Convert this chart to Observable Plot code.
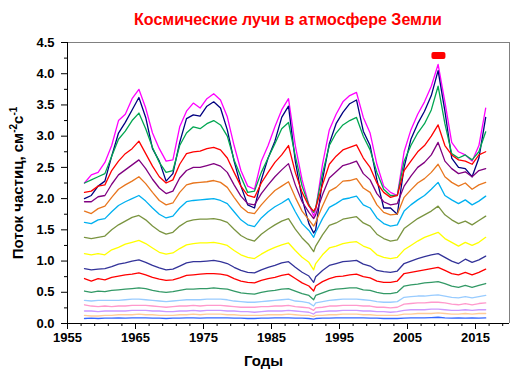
<!DOCTYPE html>
<html><head><meta charset="utf-8">
<script src="https://cdn.jsdelivr.net/npm/d3@7"></script>
<script src="https://cdn.jsdelivr.net/npm/@observablehq/plot@0.6"></script>
<style>
body{margin:0;background:#fff;width:520px;height:383px;overflow:hidden;font-family:'Liberation Sans',Arial,sans-serif;}
#title{box-sizing:border-box;height:32px;padding:10px 11px 0 67px;line-height:20px;text-align:center;color:#ff0000;font-weight:bold;font-size:16px;}
</style></head>
<body>
<div id="title">Космические лучи в атмосфере Земли</div>
<div id="chart"></div>
<script>
const years = [1957.5,1958.5,1959.5,1960.5,1961.5,1962.5,1963.5,1964.5,1965.5,1966.5,1967.5,1968.5,1969.5,1970.5,1971.5,1972.5,1973.5,1974.5,1975.5,1976.5,1977.5,1978.5,1979.5,1980.5,1981.5,1982.5,1983.5,1984.5,1985.5,1986.5,1987.5,1988.5,1989.5,1990.5,1991.2,1991.5,1992.5,1993.5,1994.5,1995.5,1996.5,1997.5,1998.5,1999.5,2000.5,2001.5,2002.5,2003.5,2004.5,2005.5,2006.5,2007.5,2008.5,2009.5,2010.5,2011.5,2012.5,2013.5,2014.5,2015.5,2016.5];

const magenta = [2.25,2.38,2.42,2.58,2.85,3.25,3.35,3.6,3.75,3.45,3.05,2.8,2.6,2.62,3.15,3.4,3.53,3.45,3.6,3.68,3.58,3.31,2.85,2.45,2.2,2.15,2.6,2.85,3.15,3.42,3.6,2.85,2.3,1.9,1.72,1.82,2.55,3.1,3.35,3.55,3.65,3.7,3.3,3.05,2.55,2.2,2.1,2.05,2.75,3.1,3.35,3.55,3.8,4.15,3.55,2.9,2.75,2.7,2.6,2.85,3.45];
const navy = [2.0,2.05,2.2,2.28,2.68,3.05,3.22,3.42,3.62,3.3,2.8,2.6,2.28,2.4,2.9,3.28,3.34,3.32,3.48,3.55,3.45,3.1,2.6,2.2,1.9,1.85,2.3,2.65,2.92,3.3,3.48,2.6,2.0,1.6,1.45,1.5,2.3,2.88,3.2,3.38,3.52,3.58,3.08,2.85,2.3,1.85,1.85,1.75,2.5,2.95,3.2,3.4,3.65,4.05,3.4,2.65,2.5,2.48,2.35,2.65,3.3];
const green = [2.25,2.3,2.35,2.4,2.68,2.95,3.08,3.25,3.37,3.12,2.82,2.58,2.42,2.45,2.85,3.05,3.15,3.12,3.2,3.25,3.18,3.0,2.62,2.35,2.1,2.12,2.42,2.65,2.88,3.12,3.22,2.68,2.2,1.9,1.78,1.85,2.4,2.85,3.05,3.18,3.25,3.3,3.0,2.78,2.42,2.15,2.05,2.05,2.6,2.85,3.05,3.2,3.42,3.8,3.2,2.72,2.65,2.7,2.62,2.75,3.07];
const red = [2.1,2.12,2.2,2.22,2.45,2.6,2.72,2.8,2.92,2.72,2.52,2.35,2.25,2.3,2.55,2.72,2.75,2.76,2.8,2.82,2.78,2.65,2.42,2.2,2.05,2.02,2.25,2.42,2.58,2.7,2.85,2.42,2.1,1.88,1.8,1.85,2.22,2.55,2.68,2.78,2.82,2.86,2.65,2.5,2.25,2.1,2.02,2.05,2.45,2.6,2.75,2.85,3.0,3.18,2.85,2.7,2.62,2.6,2.55,2.7,2.75];
const purple = [1.95,1.95,2.03,2.05,2.23,2.38,2.46,2.54,2.62,2.48,2.31,2.17,2.08,2.12,2.33,2.45,2.5,2.5,2.53,2.56,2.52,2.42,2.22,2.04,1.92,1.9,2.08,2.22,2.35,2.46,2.56,2.22,1.95,1.78,1.68,1.74,2.06,2.33,2.43,2.53,2.56,2.6,2.4,2.3,2.08,1.95,1.9,1.92,2.2,2.36,2.5,2.58,2.7,2.9,2.6,2.48,2.4,2.43,2.35,2.45,2.48];
const orange = [1.8,1.76,1.84,1.88,2.02,2.15,2.22,2.28,2.35,2.24,2.1,1.97,1.9,1.93,2.1,2.22,2.25,2.26,2.27,2.29,2.26,2.18,2.02,1.87,1.78,1.76,1.9,2.02,2.13,2.2,2.27,2.02,1.8,1.66,1.56,1.62,1.88,2.12,2.18,2.28,2.29,2.32,2.17,2.1,1.9,1.78,1.74,1.75,2.02,2.14,2.25,2.32,2.42,2.55,2.35,2.26,2.2,2.25,2.15,2.22,2.26];
const skyblue = [1.62,1.6,1.66,1.68,1.79,1.89,1.95,2.0,2.05,1.96,1.85,1.75,1.69,1.72,1.85,1.95,1.97,1.98,1.99,2.0,1.97,1.92,1.79,1.66,1.58,1.55,1.69,1.79,1.87,1.93,2.0,1.79,1.6,1.49,1.38,1.46,1.68,1.86,1.92,1.99,2.01,2.04,1.9,1.85,1.69,1.6,1.56,1.58,1.8,1.9,1.98,2.05,2.15,2.26,2.05,1.98,1.92,1.98,1.9,1.96,2.04];
const olive = [1.38,1.36,1.38,1.4,1.5,1.58,1.64,1.7,1.73,1.66,1.56,1.48,1.43,1.46,1.56,1.63,1.66,1.67,1.67,1.68,1.66,1.62,1.51,1.41,1.35,1.32,1.43,1.51,1.58,1.64,1.68,1.51,1.37,1.26,1.15,1.24,1.42,1.57,1.61,1.67,1.69,1.71,1.61,1.56,1.43,1.36,1.32,1.34,1.52,1.6,1.68,1.74,1.8,1.88,1.74,1.66,1.6,1.64,1.58,1.65,1.72];
const yellow = [1.12,1.1,1.12,1.1,1.18,1.22,1.27,1.3,1.33,1.28,1.21,1.14,1.11,1.13,1.2,1.26,1.28,1.29,1.29,1.3,1.28,1.25,1.17,1.1,1.06,1.04,1.11,1.17,1.22,1.26,1.29,1.17,1.06,0.98,0.86,0.96,1.1,1.21,1.24,1.28,1.3,1.31,1.24,1.2,1.1,1.06,1.04,1.06,1.18,1.25,1.32,1.38,1.42,1.46,1.36,1.3,1.24,1.3,1.25,1.3,1.38];
const slateblue = [0.88,0.86,0.87,0.88,0.91,0.95,0.97,1.0,1.02,0.98,0.93,0.89,0.86,0.87,0.92,0.97,0.99,0.99,1.0,1.01,0.99,0.96,0.9,0.85,0.82,0.81,0.86,0.9,0.93,0.97,0.99,0.9,0.82,0.76,0.66,0.75,0.85,0.93,0.96,0.99,1.0,1.01,0.95,0.92,0.85,0.83,0.82,0.84,0.96,1.0,1.04,1.07,1.1,1.12,1.06,1.0,0.96,1.03,0.98,1.02,1.08];
const red2 = [0.72,0.68,0.72,0.7,0.74,0.76,0.78,0.79,0.81,0.78,0.74,0.71,0.69,0.7,0.73,0.77,0.78,0.79,0.8,0.8,0.79,0.77,0.72,0.68,0.66,0.65,0.69,0.72,0.74,0.77,0.79,0.72,0.65,0.6,0.52,0.6,0.67,0.72,0.75,0.76,0.78,0.79,0.75,0.73,0.68,0.66,0.66,0.68,0.8,0.82,0.84,0.86,0.88,0.9,0.85,0.8,0.78,0.82,0.78,0.82,0.87];
const seagreen = [0.52,0.5,0.52,0.51,0.53,0.54,0.55,0.56,0.57,0.56,0.53,0.51,0.5,0.51,0.53,0.55,0.55,0.56,0.56,0.57,0.56,0.55,0.52,0.49,0.48,0.47,0.5,0.52,0.53,0.55,0.56,0.52,0.48,0.45,0.38,0.45,0.49,0.53,0.55,0.56,0.57,0.57,0.54,0.53,0.5,0.48,0.48,0.5,0.6,0.62,0.63,0.65,0.66,0.67,0.64,0.6,0.58,0.61,0.58,0.61,0.64];
const paleblue = [0.37,0.36,0.37,0.37,0.37,0.37,0.38,0.39,0.39,0.38,0.37,0.36,0.35,0.36,0.37,0.38,0.38,0.38,0.39,0.39,0.39,0.38,0.36,0.35,0.34,0.34,0.35,0.36,0.37,0.38,0.39,0.36,0.35,0.33,0.28,0.33,0.35,0.37,0.38,0.39,0.39,0.39,0.38,0.37,0.35,0.34,0.34,0.35,0.42,0.43,0.44,0.44,0.45,0.46,0.44,0.42,0.41,0.43,0.41,0.43,0.45];
const pink = [0.3,0.28,0.27,0.28,0.27,0.28,0.28,0.29,0.29,0.29,0.28,0.27,0.26,0.27,0.28,0.28,0.29,0.28,0.29,0.29,0.29,0.28,0.27,0.26,0.26,0.26,0.27,0.27,0.28,0.28,0.29,0.27,0.26,0.25,0.21,0.25,0.26,0.28,0.28,0.29,0.29,0.29,0.28,0.28,0.26,0.26,0.25,0.26,0.31,0.32,0.33,0.33,0.34,0.34,0.33,0.31,0.3,0.32,0.3,0.32,0.33];
const lavender = [0.2,0.2,0.19,0.2,0.2,0.2,0.2,0.21,0.21,0.21,0.2,0.2,0.19,0.19,0.2,0.2,0.21,0.2,0.21,0.21,0.21,0.2,0.2,0.19,0.19,0.18,0.19,0.2,0.2,0.2,0.21,0.2,0.19,0.18,0.15,0.18,0.19,0.2,0.2,0.21,0.21,0.21,0.2,0.2,0.19,0.19,0.18,0.19,0.21,0.22,0.22,0.22,0.23,0.23,0.22,0.21,0.21,0.22,0.21,0.22,0.22];
const peach = [0.13,0.12,0.12,0.13,0.13,0.14,0.14,0.14,0.15,0.14,0.14,0.13,0.13,0.13,0.14,0.14,0.15,0.14,0.15,0.15,0.15,0.14,0.14,0.13,0.13,0.13,0.13,0.14,0.14,0.14,0.15,0.14,0.13,0.13,0.11,0.13,0.13,0.14,0.14,0.15,0.15,0.15,0.14,0.14,0.13,0.13,0.13,0.13,0.15,0.15,0.16,0.16,0.16,0.17,0.16,0.15,0.15,0.16,0.15,0.16,0.16];
const blue = [0.08,0.085,0.08,0.085,0.085,0.09,0.085,0.09,0.09,0.09,0.085,0.085,0.08,0.085,0.085,0.09,0.09,0.085,0.09,0.09,0.09,0.09,0.085,0.085,0.08,0.08,0.085,0.085,0.09,0.09,0.09,0.085,0.085,0.08,0.07,0.08,0.085,0.085,0.09,0.09,0.09,0.09,0.09,0.085,0.085,0.08,0.08,0.08,0.085,0.09,0.09,0.09,0.095,0.1,0.09,0.085,0.09,0.085,0.09,0.085,0.09];

const series = [
  {values: magenta, color: "#ff00ff"},
  {values: navy, color: "#000080"},
  {values: green, color: "#00a651"},
  {values: red, color: "#ff0000"},
  {values: purple, color: "#800080"},
  {values: orange, color: "#e8761e"},
  {values: skyblue, color: "#00b0f0"},
  {values: olive, color: "#7a9440"},
  {values: yellow, color: "#ffff00"},
  {values: slateblue, color: "#333399"},
  {values: red2, color: "#ff0000"},
  {values: seagreen, color: "#339966"},
  {values: paleblue, color: "#99ccff"},
  {values: pink, color: "#ff99cc"},
  {values: lavender, color: "#cc99ff"},
  {values: peach, color: "#ffcc99"},
  {values: blue, color: "#3366ff"}
];

const marker = [{year: 2009.55, value: 4.29}];
const xDomain = [1955, 2020];
const yDomain = [0, 4.5];
const xTicks = [1955, 1965, 1975, 1985, 1995, 2005, 2015];
const xMinor = [1957,1959,1961,1963,1967,1969,1971,1973,1977,1979,1981,1983,1987,1989,1991,1993,1997,1999,2001,2003,2007,2009,2011,2013,2017,2019];
const yTicks = [0, 0.5, 1, 1.5, 2, 2.5, 3, 3.5, 4, 4.5];
const yMinor = [0.25, 0.75, 1.25, 1.75, 2.25, 2.75, 3.25, 3.75, 4.25];
const xLabel = "Годы";
const yLabelParts = ["Поток частиц, см", "-2", "с", "-1"];
const yLabel = yLabelParts.join("");

const roundRect = {
  draw(ctx) {
    const x0 = -7, x1 = 7, y0 = -3.5, y1 = 3.5, r = 2;
    ctx.moveTo(x0 + r, y0);
    ctx.lineTo(x1 - r, y0); ctx.arcTo(x1, y0, x1, y0 + r, r);
    ctx.lineTo(x1, y1 - r); ctx.arcTo(x1, y1, x1 - r, y1, r);
    ctx.lineTo(x0 + r, y1); ctx.arcTo(x0, y1, x0, y1 - r, r);
    ctx.lineTo(x0, y0 + r); ctx.arcTo(x0, y0, x0 + r, y0, r);
    ctx.closePath();
  }
};

const lineMarks = series.map(s => Plot.line(years.map((y, i) => ({year: y, value: s.values[i]})), {
  x: "year", y: "value", stroke: s.color, strokeWidth: 1.3
}));

const chart = Plot.plot({
  width: 520, height: 351,
  marginLeft: 67, marginRight: 11, marginTop: 10, marginBottom: 60,
  style: {fontFamily: "'Liberation Sans', Arial, sans-serif", fontSize: "13px", fontWeight: "bold", color: "black", background: "white"},
  x: {domain: xDomain, label: null},
  y: {domain: yDomain, label: null},
  marks: [
    Plot.ruleY([yDomain[1]], {stroke: "#808080"}),
    Plot.ruleX([xDomain[1]], {stroke: "#808080"}),
    ...lineMarks,
    Plot.dot(marker, {x: "year", y: "value", symbol: roundRect, fill: "#ff0000", stroke: null}),
    Plot.ruleY([yDomain[0]], {stroke: "black"}),
    Plot.ruleX([xDomain[0]], {stroke: "black"}),
    Plot.axisX({ticks: xTicks, tickSize: 6, tickPadding: 3, tickFormat: d => String(d), label: null}),
    Plot.axisX({ticks: xMinor, tickSize: 3, tickFormat: () => "", label: null}),
    Plot.axisY({ticks: yTicks, tickSize: 6, tickPadding: 7, tickFormat: d => d.toFixed(1), label: null}),
    Plot.axisY({ticks: yMinor, tickSize: 3, tickFormat: () => "", label: null}),
    Plot.text([xLabel], {text: d => d, frameAnchor: "bottom", textAnchor: "middle", dy: 42, dx: -25, fontSize: 15, fontWeight: "bold"}),
    Plot.text([yLabel], {text: d => d, frameAnchor: "left", textAnchor: "middle", dx: -49, rotate: -90, fontSize: 15, fontWeight: "bold"})
  ]
});
// render superscripts in the y label
d3.select(chart).selectAll("text").filter(function() { return this.textContent === yLabel; }).each(function() {
  const t = d3.select(this);
  t.text(null);
  t.append("tspan").text(yLabelParts[0]);
  t.append("tspan").attr("dy", -6).attr("font-size", 10).text(yLabelParts[1]);
  t.append("tspan").attr("dy", 6).text(yLabelParts[2]);
  t.append("tspan").attr("dy", -6).attr("font-size", 10).text(yLabelParts[3]);
});
document.getElementById("chart").appendChild(chart);
</script>
</body></html>
